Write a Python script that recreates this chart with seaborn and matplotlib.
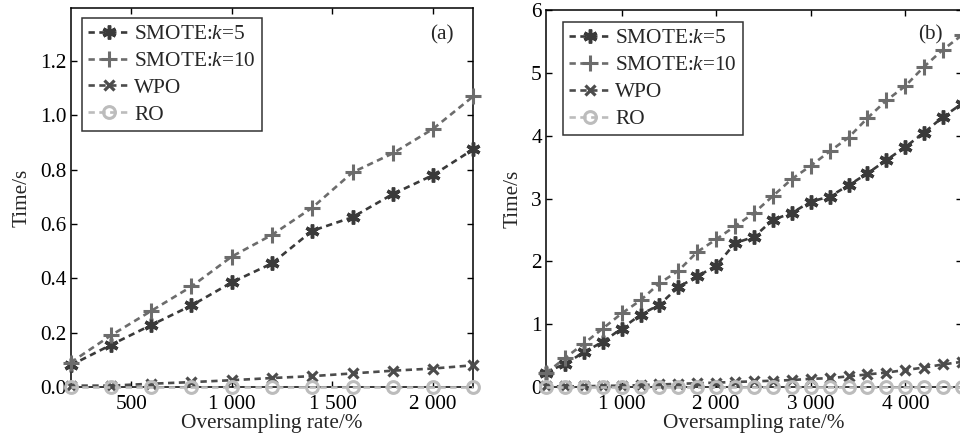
import numpy as np
import pandas as pd
import matplotlib
matplotlib.use("Agg")
import matplotlib.pyplot as plt
import seaborn as sns

# ---------------- data ----------------
rate_a = [200, 400, 600, 800, 1000, 1200, 1400, 1600, 1800, 2000, 2200]
smote5_a = [0.08, 0.155, 0.228, 0.30, 0.385, 0.455, 0.575, 0.625, 0.71, 0.78, 0.875]
smote10_a = [0.09, 0.19, 0.28, 0.37, 0.48, 0.56, 0.66, 0.79, 0.86, 0.95, 1.07]
wpo_a = [0.005, 0.005, 0.012, 0.018, 0.025, 0.033, 0.04, 0.05, 0.06, 0.068, 0.08]
ro_a = [0.0] * 11

rate_b = [200, 400, 600, 800, 1000, 1200, 1400, 1600, 1800, 2000, 2200, 2400,
          2600, 2800, 3000, 3200, 3400, 3600, 3800, 4000, 4200, 4400, 4600]
smote5_b = [0.23, 0.37, 0.55, 0.72, 0.93, 1.15, 1.31, 1.59, 1.76, 1.93, 2.29, 2.39,
            2.66, 2.77, 2.95, 3.03, 3.21, 3.40, 3.61, 3.82, 4.05, 4.30, 4.51]
smote10_b = [0.22, 0.46, 0.69, 0.93, 1.17, 1.38, 1.65, 1.85, 2.15, 2.35, 2.56, 2.77,
             3.04, 3.31, 3.52, 3.75, 3.97, 4.28, 4.56, 4.79, 5.10, 5.37, 5.60]
wpo_b = [0.01, 0.01, 0.01, 0.02, 0.02, 0.03, 0.04, 0.05, 0.06, 0.07, 0.08, 0.09,
         0.10, 0.11, 0.13, 0.14, 0.17, 0.20, 0.23, 0.27, 0.31, 0.36, 0.40]
ro_b = [0.0] * 23

labels = ["SMOTE:$\\mathit{k}$=5", "SMOTE:$\\mathit{k}$=10", "WPO", "RO"]
xticks_a = [500, 1000, 1500, 2000]
xticklabels_a = ["500", "1 000", "1 500", "2 000"]
yticks_a = [0.0, 0.2, 0.4, 0.6, 0.8, 1.0, 1.2]
yticklabels_a = ["0.0", "0.2", "0.4", "0.6", "0.8", "1.0", "1.2"]
xticks_b = [1000, 2000, 3000, 4000]
xticklabels_b = ["1 000", "2 000", "3 000", "4 000"]
yticks_b = [0, 1, 2, 3, 4, 5, 6]
yticklabels_b = ["0", "1", "2", "3", "4", "5", "6"]

# ---------------- style ----------------
sns.set_theme(style="ticks")
plt.rcParams["font.family"] = ["Liberation Serif", "DejaVu Serif"]
plt.rcParams["mathtext.fontset"] = "custom"
plt.rcParams["mathtext.rm"] = "Liberation Serif"
plt.rcParams["mathtext.it"] = "Liberation Serif:italic"
plt.rcParams["axes.linewidth"] = 1.1
plt.rcParams["axes.edgecolor"] = "black"

styles = [
    dict(color="#3a3a3a", marker=(6, 2, 0), ms=10, mew=2.5, mfc="none"),
    dict(color="#6c6c6c", marker="+", ms=12, mew=2.2, mfc="none"),
    dict(color="#4c4c4c", marker="x", ms=7.5, mew=2.3, mfc="none"),
    dict(color="#bcbcbc", marker="o", ms=8.5, mew=2.2, mfc="none"),
]

fig = plt.figure(figsize=(9.6, 4.42), dpi=100)
ax_a = fig.add_axes([70.7 / 960, 1 - 387 / 442, (473.3 - 70.7) / 960, (387 - 8) / 442])
ax_b = fig.add_axes([546 / 960, 1 - 387 / 442, (962 - 546) / 960, (387 - 10) / 442])


def draw(ax, x, series):
    for ys, lab, st in zip(series, labels, styles):
        df = pd.DataFrame({"rate": x, "time": ys})
        sns.lineplot(data=df, x="rate", y="time", ax=ax, label=lab,
                     color=st["color"], marker=st["marker"], markersize=st["ms"],
                     markeredgewidth=st["mew"], markeredgecolor=st["color"],
                     markerfacecolor=st["mfc"], linewidth=1.9,
                     linestyle=(0, (2.4, 1.7)), clip_on=False)


draw(ax_a, rate_a, [smote5_a, smote10_a, wpo_a, ro_a])
draw(ax_b, rate_b, [smote5_b, smote10_b, wpo_b, ro_b])

fs = 15.3
for ax, xl, yl, xt, xtl, yt, ytl, tag, tagpos, legpos in [
    (ax_a, (200, 2200), (0, 1.395), xticks_a, xticklabels_a, yticks_a, yticklabels_a,
     "(a)", (0.95, 0.93), (0.028, 0.974)),
    (ax_b, (200, 4600), (0, 6), xticks_b, xticklabels_b, yticks_b, yticklabels_b,
     "(b)", (0.954, 0.935), (0.041, 0.968)),
]:
    ax.set_xlim(*xl)
    ax.set_ylim(*yl)
    ax.set_xticks(xt)
    ax.set_xticklabels(xtl, fontsize=fs)
    ax.set_yticks(yt)
    ax.set_yticklabels(ytl, fontsize=fs)
    ax.tick_params(direction="in", top=True, right=True, length=4, width=1,
                   colors="black", labelsize=fs)
    ax.tick_params(axis="x", pad=6)
    ax.tick_params(axis="y", pad=3)
    ax.set_xlabel("Oversampling rate/%", fontsize=fs, labelpad=0)
    ax.set_ylabel("Time/s", fontsize=fs, labelpad=6)
    for s in ax.spines.values():
        s.set_visible(True)
        s.set_color("black")
        s.set_zorder(1)
    ax.text(tagpos[0], tagpos[1], tag, transform=ax.transAxes, ha="right",
            va="center", fontsize=fs)
    leg = ax.legend(loc="upper left", bbox_to_anchor=legpos, fontsize=fs,
                    frameon=True, fancybox=False, edgecolor="black",
                    handlelength=1.9, handletextpad=0.25, borderpad=0.3,
                    labelspacing=0.33, borderaxespad=0.0)
    leg.get_frame().set_linewidth(1.1)

fig.savefig("out.png", dpi=100)
